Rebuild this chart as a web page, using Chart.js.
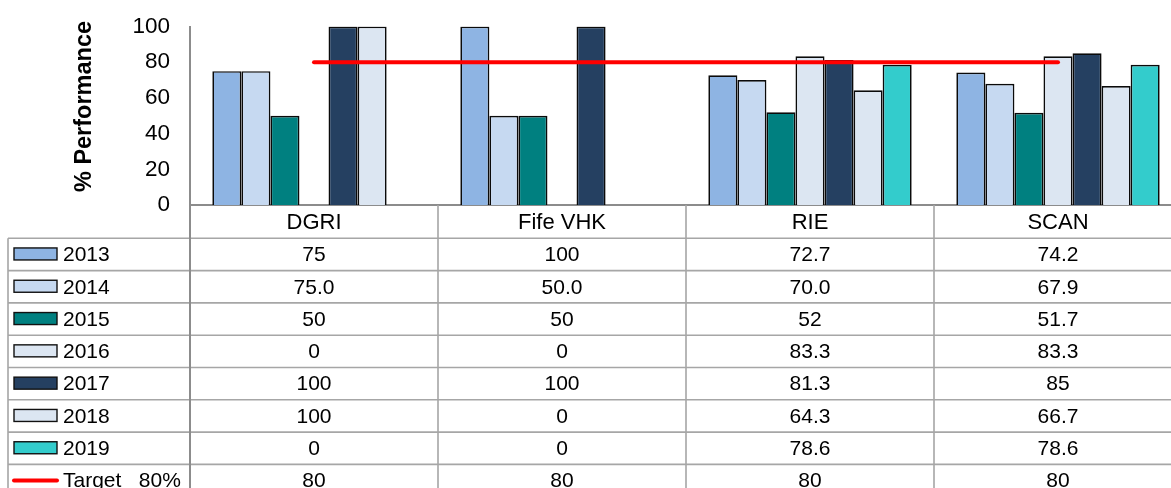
<!DOCTYPE html>
<html><head><meta charset="utf-8">
<script src="https://cdn.jsdelivr.net/npm/chart.js@4"></script>
<style>html,body{margin:0;padding:0;overflow:hidden;background:#fff}
#wrap{position:relative;width:1183px;height:488px}</style>
</head><body><div id="wrap"><canvas id="c"></canvas></div>
<script>
// ---- data ----
const categories = ['DGRI', 'Fife VHK', 'RIE', 'SCAN'];
const seriesNames = ['2013', '2014', '2015', '2016', '2017', '2018', '2019'];
const v2013 = [75, 100, 72.7, 74.2];
const v2014 = [75.0, 50.0, 70.0, 67.9];
const v2015 = [50, 50, 52, 51.7];
const v2016 = [0, 0, 83.3, 83.3];
const v2017 = [100, 100, 81.3, 85];
const v2018 = [100, 0, 64.3, 66.7];
const v2019 = [0, 0, 78.6, 78.6];
const targetName = 'Target   80%';
const target = [80, 80, 80, 80];
const yTicks = [0, 20, 40, 60, 80, 100];
const yTitle = '% Performance';
const tableDecimals = [null, 1, null, null, null, null, null];

// ---- styles ----
const barColors = ['#8EB4E3', '#C6D9F1', '#008080', '#DCE6F2', '#254061', '#DCE6F2', '#33CCCC'];
const seriesValues = [v2013, v2014, v2015, v2016, v2017, v2018, v2019];
const FONT = '"Liberation Sans", Arial, sans-serif';

const datasets = seriesNames.map((n, i) => ({
  type: 'bar', label: n, data: seriesValues[i],
  backgroundColor: barColors[i], borderColor: '#0a0a0a', borderWidth: 1.7,
  borderSkipped: 'start', order: 2,
  categoryPercentage: 0.82, barPercentage: 1.0
}));
datasets.push({
  type: 'line', label: targetName, data: target,
  borderColor: '#FF0000', borderWidth: 4, pointRadius: 0, borderCapStyle: 'round',
  fill: false, order: 0
});

const tablePlugin = {
  id: 'dataTable',
  afterDraw(chart) {
    const ctx = chart.ctx;
    const x = chart.scales.x;
    const area = chart.chartArea;
    const rowTop = 238.3, rowH = 32.3;
    const nRows = seriesNames.length + 1;
    const tableLeft = 8, right = chart.width;
    const bottom = chart.height;
    ctx.save();
    // table lines
    ctx.strokeStyle = '#a6a6a6';
    ctx.lineWidth = 1.6;
    ctx.beginPath();
    for (let r = 0; r < nRows; r++) {
      const yy = rowTop + r * rowH;
      ctx.moveTo(tableLeft, yy); ctx.lineTo(right, yy);
    }
    ctx.moveTo(tableLeft, rowTop); ctx.lineTo(tableLeft, bottom);
    const cw = (area.right - area.left) / categories.length;
    for (let c = 1; c <= categories.length; c++) {
      const xx = area.left + c * cw;
      ctx.moveTo(xx, area.bottom); ctx.lineTo(xx, bottom);
    }
    ctx.stroke();
    // axis line continuation
    ctx.strokeStyle = '#8c8c8c';
    ctx.lineWidth = 2;
    ctx.beginPath();
    ctx.moveTo(area.left, area.bottom); ctx.lineTo(area.left, bottom);
    ctx.stroke();

    // legend keys + labels + values
    ctx.font = '21px ' + FONT;
    ctx.fillStyle = '#000';
    ctx.textBaseline = 'middle';
    for (let i = 0; i < nRows; i++) {
      const cy = rowTop + rowH * (i + 0.5);
      if (i < seriesNames.length) {
        ctx.fillStyle = barColors[i];
        ctx.fillRect(14, cy - 6.5, 43, 12);
        ctx.strokeStyle = '#111';
        ctx.lineWidth = 1.4;
        ctx.strokeRect(14, cy - 6.5, 43, 12);
      } else {
        ctx.strokeStyle = '#FF0000';
        ctx.lineWidth = 4;
        ctx.lineCap = 'round';
        ctx.beginPath(); ctx.moveTo(14, cy); ctx.lineTo(57, cy); ctx.stroke();
      }
      ctx.fillStyle = '#000';
      ctx.textAlign = 'left';
      const label = i < seriesNames.length ? seriesNames[i] : targetName;
      ctx.fillText(label, 63, cy + 1);
      const vals = i < seriesNames.length ? seriesValues[i] : target;
      const dec = i < seriesNames.length ? tableDecimals[i] : null;
      ctx.textAlign = 'center';
      vals.forEach((v, c) => {
        const txt = dec != null ? v.toFixed(dec) : String(v);
        ctx.fillText(txt, x.getPixelForValue(c), cy + 1);
      });
    }
    // y title
    ctx.translate(85, 106.5);
    ctx.rotate(-Math.PI / 2);
    ctx.font = 'bold 23.5px ' + FONT;
    ctx.textAlign = 'center';
    ctx.fillText(yTitle, 0, 0);
    ctx.restore();
  }
};

function noPad(s) { s.paddingTop = 0; s.paddingBottom = 0; s.paddingLeft = 0; s.paddingRight = 0; }

new Chart(document.getElementById('c'), {
  type: 'bar',
  data: { labels: categories, datasets },
  options: {
    responsive: true, maintainAspectRatio: false, animation: false,
    events: [],
    layout: { padding: { top: 26.5, bottom: 250, left: 0, right: 1 } },
    plugins: { legend: { display: false }, tooltip: { enabled: false } },
    scales: {
      x: {
        grid: { display: false, drawTicks: false },
        border: { display: true, color: '#8c8c8c', width: 2 },
        ticks: { color: '#000', font: { family: FONT, size: 22 }, padding: 5, maxRotation: 0 },
        afterFit(s) { s.height = 33; noPad(s); }
      },
      y: {
        min: 0, max: 100,
        afterBuildTicks(s) { s.ticks = yTicks.map(v => ({ value: v })); },
        grid: { display: false, drawTicks: false },
        border: { display: true, color: '#8c8c8c', width: 2 },
        ticks: { color: '#000', font: { family: FONT, size: 22.5 }, padding: 20 },
        afterFit(s) { s.width = 190; noPad(s); }
      }
    }
  },
  plugins: [tablePlugin]
});
</script></body></html>
